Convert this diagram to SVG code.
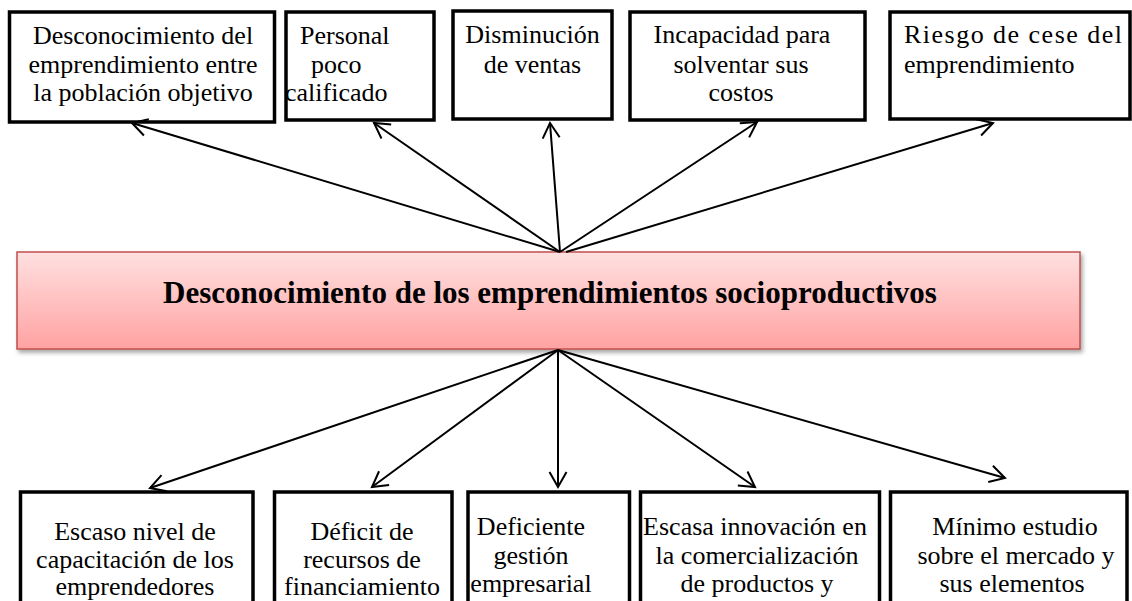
<svg xmlns="http://www.w3.org/2000/svg" width="1132" height="601" viewBox="0 0 1132 601">
<style>
.box{fill:#fff;stroke:#000;stroke-width:3.5}
.t{font-family:"Liberation Serif","Times New Roman",serif;font-size:26px;fill:#000}
.c{text-anchor:middle}
.con{stroke:#000;stroke-width:2;fill:none;marker-end:url(#arr)}
.main{font-family:"Liberation Serif","Times New Roman",serif;font-size:31px;font-weight:bold;fill:#000;text-anchor:middle}
</style>
<defs>
<marker id="arr" markerUnits="userSpaceOnUse" viewBox="-20 -12 24 24" refX="0" refY="0" markerWidth="24" markerHeight="24" orient="auto" overflow="visible">
<path d="M-15,-8.5 L0,0 L-15,8.5" fill="none" stroke="#000" stroke-width="2"/>
</marker>
<linearGradient id="g" x1="0" y1="0" x2="0" y2="1">
<stop offset="0" stop-color="#ffe0e0"/>
<stop offset="1" stop-color="#ffa2a2"/>
</linearGradient>
<filter id="sh" x="-5%" y="-20%" width="110%" height="150%">
<feDropShadow dx="2" dy="3" stdDeviation="2" flood-color="#000" flood-opacity="0.35"/>
</filter>
</defs>
<rect width="1132" height="601" fill="#fff"/>

<g id="top1"><rect class="box" x="9.5" y="12" width="265" height="110"/>
<text class="t c" x="143" y="44">Desconocimiento del</text>
<text class="t c" x="143" y="72.5">emprendimiento entre</text>
<text class="t c" x="143" y="101">la población objetivo</text></g>

<g id="top2"><rect class="box" x="286" y="12" width="148" height="108"/>
<text class="t" x="300" y="44">Personal</text>
<text class="t" x="311" y="72.5">poco</text>
<text class="t" x="285" y="101">calificado</text></g>

<g id="top3"><rect class="box" x="453" y="11" width="159" height="108"/>
<text class="t c" x="532.5" y="43">Disminución</text>
<text class="t c" x="532.5" y="72.5">de ventas</text></g>

<g id="top4"><rect class="box" x="630" y="12" width="235" height="108"/>
<text class="t c" x="742" y="43">Incapacidad para</text>
<text class="t c" x="741" y="72.5">solventar sus</text>
<text class="t c" x="741" y="101">costos</text></g>

<g id="top5"><rect class="box" x="890" y="12" width="240" height="107"/>
<text class="t" x="904" y="43" textLength="218" lengthAdjust="spacing">Riesgo de cese del</text>
<text class="t" x="904" y="72.5">emprendimiento</text></g>

<g id="center"><rect x="17" y="252" width="1063" height="97" fill="url(#g)" stroke="#c0504d" stroke-width="1.5" filter="url(#sh)"/>
<text class="main" x="550" y="303">Desconocimiento de los emprendimientos socioproductivos</text></g>

<g id="bot1"><rect class="box" x="20.5" y="492" width="232.5" height="120"/>
<text class="t c" x="135" y="540">Escaso nivel de</text>
<text class="t c" x="135" y="568">capacitación de los</text>
<text class="t c" x="135" y="595">emprendedores</text></g>

<g id="bot2"><rect class="box" x="274.5" y="492" width="177.5" height="120"/>
<text class="t c" x="362" y="540">Déficit de</text>
<text class="t c" x="362" y="568">recursos de</text>
<text class="t c" x="362" y="595">financiamiento</text></g>

<g id="bot3"><rect class="box" x="468" y="492" width="161.5" height="120"/>
<text class="t c" x="531" y="535">Deficiente</text>
<text class="t c" x="531" y="563.5">gestión</text>
<text class="t c" x="531" y="592">empresarial</text></g>

<g id="bot4"><rect class="box" x="640.5" y="492" width="239" height="120"/>
<text class="t c" x="755" y="535">Escasa innovación en</text>
<text class="t c" x="757" y="563.5">la comercialización</text>
<text class="t c" x="757" y="592">de productos y</text></g>

<g id="bot5"><rect class="box" x="890.5" y="492" width="236.5" height="120"/>
<text class="t c" x="1015" y="535">Mínimo estudio</text>
<text class="t c" x="1016" y="563.5">sobre el mercado y</text>
<text class="t c" x="1012" y="592">sus elementos</text></g>

<g id="connectors">
<line class="con" x1="560" y1="252" x2="132" y2="123"/>
<line class="con" x1="560" y1="252" x2="374" y2="123"/>
<line class="con" x1="560" y1="252" x2="550" y2="123"/>
<line class="con" x1="560" y1="252" x2="757" y2="122"/>
<line class="con" x1="566" y1="252" x2="993" y2="123"/>
<line class="con" x1="558" y1="350" x2="150" y2="488"/>
<line class="con" x1="558" y1="350" x2="372" y2="487"/>
<line class="con" x1="558" y1="350" x2="558" y2="487"/>
<line class="con" x1="558" y1="350" x2="755" y2="487"/>
<line class="con" x1="558" y1="350" x2="1005" y2="478"/>
</g>
</svg>
